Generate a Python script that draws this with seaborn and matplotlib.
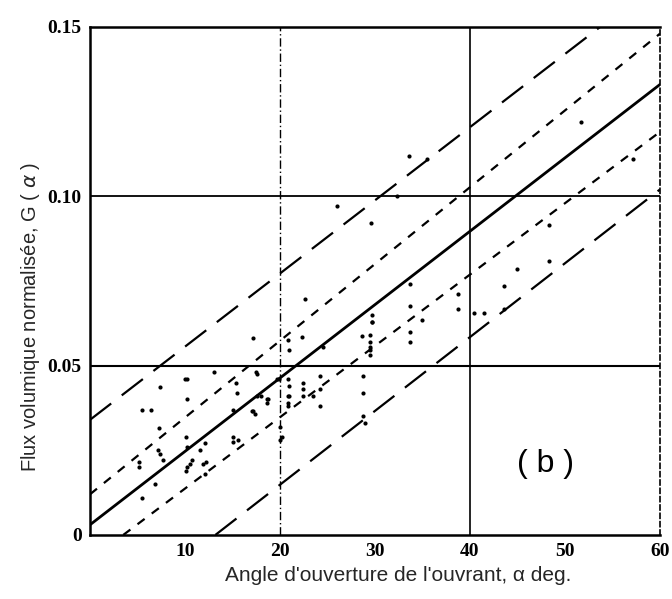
import matplotlib
matplotlib.use("Agg")
import matplotlib.pyplot as plt
import seaborn as sns
import pandas as pd
from matplotlib.ticker import MultipleLocator

# ---- data ----
alpha_pts = [7.4, 10.2, 10.2, 5.5, 6.4, 7.3, 7.2, 7.4, 7.7, 5.2, 5.2, 6.8, 5.5, 10.2, 10.2,
             17.2, 10.0, 13.0, 17.5, 17.6, 15.4, 15.5, 15.0, 17.6, 17.0, 17.4, 18.6, 18.6,
             10.1, 15.0, 15.1, 15.6, 11.6, 19.9, 20.0, 20.8, 20.8, 20.8, 20.9,
             22.3, 24.5, 29.5, 29.5, 29.5, 29.5, 29.5, 29.7, 19.7, 20.8, 21.0, 21.0, 20.8,
             22.4, 22.4, 22.4, 23.5, 24.2, 24.2, 24.2, 28.7, 28.7, 28.7, 20.0, 20.2,
             26.0, 32.3, 29.6, 33.7, 33.7, 35.0, 33.7, 33.7, 38.7, 38.7, 29.7, 29.7, 28.6,
             33.6, 35.5, 22.6, 28.9, 48.3, 48.3, 45.0, 43.6, 43.6, 40.4, 41.5,
             51.7, 57.2, 10.1, 12.1, 10.5, 10.7, 11.9, 12.2, 12.1, 18.0, 18.7, 17.2]
g_pts = [0.0436, 0.046, 0.040, 0.037, 0.037, 0.0315, 0.025, 0.024, 0.022, 0.0215, 0.020, 0.015, 0.011, 0.026, 0.020,
         0.058, 0.046, 0.048, 0.048, 0.0475, 0.045, 0.042, 0.037, 0.041, 0.0367, 0.0357, 0.040, 0.039,
         0.029, 0.029, 0.0275, 0.028, 0.025, 0.046, 0.028, 0.041, 0.038, 0.0575, 0.0545,
         0.0585, 0.0555, 0.059, 0.057, 0.0555, 0.0545, 0.053, 0.063, 0.046, 0.046, 0.044, 0.041, 0.039,
         0.045, 0.043, 0.041, 0.041, 0.047, 0.043, 0.038, 0.047, 0.042, 0.035, 0.032, 0.029,
         0.097, 0.100, 0.092, 0.074, 0.0675, 0.0636, 0.060, 0.057, 0.071, 0.0667, 0.065, 0.063, 0.0588,
         0.112, 0.111, 0.0697, 0.033, 0.0915, 0.081, 0.0785, 0.0736, 0.0667, 0.0655, 0.0655,
         0.122, 0.111, 0.019, 0.018, 0.021, 0.022, 0.021, 0.0215, 0.027, 0.041, 0.040, 0.0367]

fit_alpha = [0, 60]
fit_g = [0.003, 0.133]
upper_inner_alpha = [0, 60]
upper_inner_g = [0.012, 0.148]
lower_inner_alpha = [3.5, 60]
lower_inner_g = [0.0, 0.119]
upper_outer_alpha = [0, 53.7]
upper_outer_g = [0.034, 0.150]
lower_outer_alpha = [13.2, 60]
lower_outer_g = [0.0, 0.102]

x_ticks = [10, 20, 30, 40, 50, 60]
y_ticks = [0, 0.05, 0.10, 0.15]
y_ticklabels = ["0", "0.05", "0.10", "0.15"]

# ---- figure ----
sns.set_theme(style="white")
plt.rcParams["font.family"] = ["Liberation Sans", "DejaVu Sans"]

fig = plt.figure(figsize=(6.72, 5.99), dpi=100)
ax = fig.add_axes([0.134, 0.107, 0.848, 0.848])

# grid lines
ax.axvline(20, color="black", lw=1.0, ls=(0, (6, 2, 1, 2)), zorder=1)
ax.axvline(40, color="black", lw=1.2, zorder=1)
ax.axhline(0.05, color="black", lw=1.5, zorder=1)
ax.axhline(0.10, color="black", lw=1.3, zorder=1)

def line(xs, ys, lw, dash=None):
    sns.lineplot(x=xs, y=ys, ax=ax, color="black", legend=False, lw=lw)
    if dash is not None:
        ax.lines[-1].set_dashes(dash)

line(fit_alpha, fit_g, 2.0)
line(upper_inner_alpha, upper_inner_g, 1.6, (4, 4))
line(lower_inner_alpha, lower_inner_g, 1.6, (4, 4))
line(upper_outer_alpha, upper_outer_g, 1.6, (12, 6))
line(lower_outer_alpha, lower_outer_g, 1.6, (12, 6))

df = pd.DataFrame({"alpha": alpha_pts, "G": g_pts})
sns.scatterplot(data=df, x="alpha", y="G", ax=ax, color="black", s=9,
                edgecolor="black", linewidth=0, zorder=3)

ax.set_xlim(0, 60)
ax.set_ylim(0, 0.15)
ax.set_xticks(x_ticks)
ax.set_yticks(y_ticks)
ax.set_yticklabels(y_ticklabels)
ax.xaxis.set_minor_locator(MultipleLocator(2))
ax.yaxis.set_minor_locator(MultipleLocator(0.01))
ax.tick_params(axis="both", which="major", direction="in", length=5, width=1.2,
               colors="black")
ax.tick_params(axis="both", which="minor", direction="in", length=3, width=1.0)
ax.tick_params(axis="x", which="both", top=False, pad=6)
ax.tick_params(axis="y", which="both", right=False, pad=6)
for lab in ax.get_xticklabels() + ax.get_yticklabels():
    lab.set_fontfamily("Liberation Serif")
    lab.set_fontweight("bold")
    lab.set_fontsize(14)

for side in ["left", "bottom", "top"]:
    ax.spines[side].set_color("black")
    ax.spines[side].set_linewidth(1.8)
ax.spines["right"].set_color("black")
ax.spines["right"].set_linewidth(1.2)
ax.spines["right"].set_linestyle((0, (3, 2)))

ax.set_xlabel("Angle d'ouverture de l'ouvrant, α deg.", fontsize=15, va="center")
ax.xaxis.set_label_coords(0.54, -0.079)
ax.set_ylabel("Flux volumique normalisée, G ( $\\it{α}$ )", fontsize=14.5, va="center")
ax.yaxis.set_label_coords(-0.105, 0.43)
ax.text(48, 0.021, "( b )", fontsize=23, ha="center", va="center", color="black")

fig.savefig("out.png", dpi=100, facecolor="white")
